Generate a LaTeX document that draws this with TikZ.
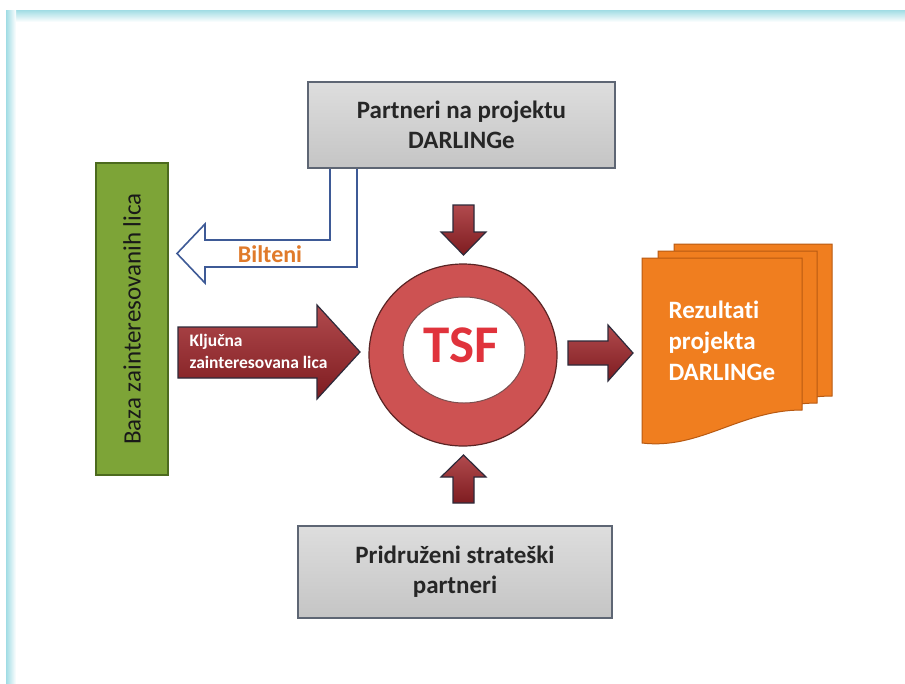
\documentclass[tikz,border=0pt]{standalone}
\usepackage{fontspec}
\setmainfont{Carlito}[Ligatures={NoCommon}]
\definecolor{framecyan}{HTML}{A0DCE4}
\definecolor{boxgray}{HTML}{CFCFCF}
\definecolor{boxedge}{HTML}{5E6674}
\definecolor{basegreen}{HTML}{7DA437}
\definecolor{greenedge}{HTML}{4C6A1E}
\definecolor{arrowred}{HTML}{A32A2E}
\definecolor{arrowdark}{HTML}{7E1C20}
\definecolor{arrowedge}{HTML}{2E2A3A}
\definecolor{ringred}{HTML}{CD5252}
\definecolor{ringedge}{HTML}{5A2424}
\definecolor{tsfred}{HTML}{E0333C}
\definecolor{docorange}{HTML}{F07E1F}
\definecolor{docedge}{HTML}{B85A12}
\definecolor{biltorange}{HTML}{E07A2A}
\definecolor{biltblue}{HTML}{3E5A96}
\tikzset{
  graybox/.style={draw=boxedge, line width=1.6pt, top color=boxgray!70!white, bottom color=boxgray!95!black,
    align=center, font=\bfseries\fontsize{25}{30}\selectfont, text=black!85},
  greenbox/.style={draw=greenedge, line width=1.6pt, fill=basegreen,
    font=\fontsize{25}{30}\selectfont, text=black!90},
  redarrow/.style={draw=arrowedge, line width=1.2pt, top color=arrowred!85!white, bottom color=arrowdark},
  docsheet/.style={draw=docedge, line width=1pt, fill=docorange},
}
\begin{document}
\begin{tikzpicture}[x=1pt,y=-1pt]
\useasboundingbox (0,0) rectangle (905,683);
\fill[white] (0,0) rectangle (905,683);
% frame
\shade[top color=framecyan, bottom color=white] (6,10) rectangle (905,22);
\shade[left color=framecyan, right color=white] (6,10) rectangle (16,683);

% top and bottom boxes
\node[graybox, minimum width=307pt, minimum height=86pt] (partneri) at (461.5,125) {Partneri na projektu\\DARLINGe};
\node[graybox, minimum width=314pt, minimum height=92pt] (pridruzeni) at (455,572) {Pridruženi strateški\\partneri};

% green box
\node[greenbox, minimum width=312pt, minimum height=72pt, rotate=90] (baza) at (132,319) {Baza zainteresovanih lica};

% Bilteni hollow arrow
\coordinate (bA) at (330,169);
\coordinate (bB) at (357,169);
\draw[biltblue, line width=1.6pt, fill=white, line join=miter]
  (bA) -- (330,240) -- (205,240) -- (205,224) -- (177,253.5) -- (205,283) -- (205,267) -- (357,267) -- (bB);
\node[text=biltorange, font=\bfseries\fontsize{24}{28}\selectfont] (bilteni) at (270,254) {Bilteni};

% Kljucna arrow
\draw[redarrow] (178,327) -- (317,327) -- (317,305) -- (360,352) -- (317,399) -- (317,378) -- (178,378) -- cycle;
\node[anchor=west, align=left, font=\bfseries\fontsize{17.5}{22}\selectfont, text=white] (kljucna) at (186,351) {Ključna\\zainteresovana lica};

% TSF ring
\fill[ringred, even odd rule] (463,355) ellipse [x radius=94, y radius=91] (464,350) ellipse [x radius=61, y radius=53];
\draw[ringedge, line width=1.2pt] (463,355) ellipse [x radius=94, y radius=91];
\draw[ringedge!80, line width=1pt] (464,350) ellipse [x radius=61, y radius=53];
\node[text=tsfred, font=\bfseries\fontsize{53}{60}\selectfont] (tsf) at (461,345) {TSF};

% small red arrows
\draw[redarrow] (453,205) -- (474,205) -- (474,232) -- (486,232) -- (463.5,255) -- (441,232) -- (453,232) -- cycle;
\draw[redarrow] (453,503) -- (474,503) -- (474,477) -- (486,477) -- (463.5,455) -- (441,477) -- (453,477) -- cycle;
\draw[redarrow] (568,341) -- (608,341) -- (608,325) -- (633,353) -- (608,381) -- (608,365) -- (568,365) -- cycle;

% document stack
\draw[docsheet] (674,244) -- (832,244) -- (832,396) .. controls (770,396) and (730,436) .. (674,429) -- cycle;
\draw[docsheet] (658,251) -- (817,251) -- (817,403) .. controls (755,403) and (715,443) .. (658,436) -- cycle;
\draw[docsheet] (642,258) -- (802,258) -- (802,410) .. controls (740,410) and (700,450) .. (642,443) -- cycle;
\node[anchor=west, align=left, text=white, font=\bfseries\fontsize{25}{31}\selectfont] (rezultati) at (665,341) {Rezultati\\projekta\\DARLINGe};
\end{tikzpicture}
\end{document}
